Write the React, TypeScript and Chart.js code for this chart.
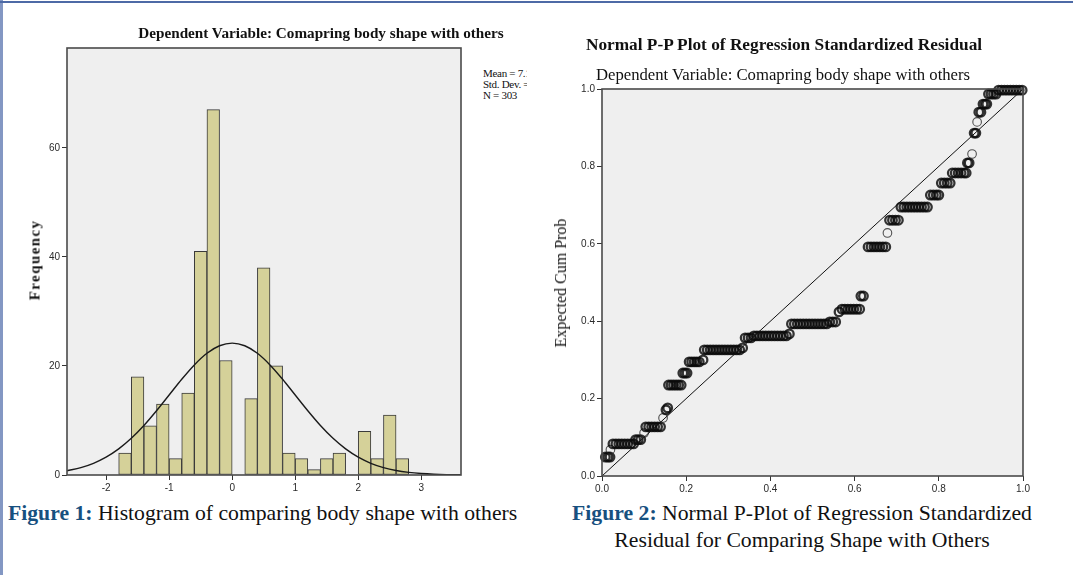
import React, { useEffect, useRef } from "react";
import { Chart, registerables } from "chart.js";
Chart.register(...registerables);

// ---------- Figure 1: histogram ----------
const binCenters = [-1.7, -1.5, -1.3, -1.1, -0.9, -0.7, -0.5, -0.3, -0.1, 0.1, 0.3, 0.5, 0.7, 0.9, 1.1, 1.3, 1.5, 1.7, 1.9, 2.1, 2.3, 2.5, 2.7];
const binCounts = [4, 18, 9, 13, 3, 15, 41, 67, 21, 0, 14, 38, 20, 4, 3, 1, 3, 4, 0, 8, 3, 11, 3];
const curveX = [-2.62, -2.4, -2.2, -2.0, -1.8, -1.6, -1.4, -1.2, -1.0, -0.8, -0.6, -0.4, -0.2, 0, 0.2, 0.4, 0.6, 0.8, 1.0, 1.2, 1.4, 1.6, 1.8, 2.0, 2.2, 2.4, 2.6, 2.8, 3.0, 3.2, 3.4, 3.63];
const curveY = [0.78, 1.36, 2.15, 3.27, 4.78, 6.72, 9.07, 11.77, 14.66, 17.56, 20.19, 22.32, 23.7, 24.18, 23.7, 22.32, 20.19, 17.56, 14.66, 11.77, 9.07, 6.72, 4.78, 3.27, 2.15, 1.36, 0.82, 0.48, 0.27, 0.14, 0.07, 0.04];
const histXTicks = [-2, -1, 0, 1, 2, 3];
const freqTicks = [0, 20, 40, 60];

// ---------- Figure 2: P-P plot ----------
const ppObserved = [
  0.008, 0.014, 0.019,
  0.020,
  0.026, 0.033, 0.040, 0.047, 0.054, 0.061, 0.068, 0.075,
  0.080, 0.086, 0.092,
  0.100,
  0.104, 0.111, 0.118, 0.125, 0.132, 0.139,
  0.145,
  0.152, 0.156,
  0.158, 0.164, 0.170, 0.176, 0.182, 0.188,
  0.192, 0.197, 0.202,
  0.207, 0.213, 0.219, 0.225, 0.231, 0.240,
  0.243, 0.250, 0.257, 0.264, 0.271, 0.278, 0.285, 0.292, 0.299, 0.306, 0.313, 0.320, 0.327, 0.334,
  0.340, 0.347, 0.354,
  0.361, 0.368, 0.375, 0.382, 0.389, 0.396, 0.403, 0.410, 0.417, 0.424, 0.431, 0.438, 0.445,
  0.450, 0.457, 0.464, 0.471, 0.478, 0.485, 0.492, 0.499, 0.506, 0.513, 0.520, 0.527, 0.534,
  0.541, 0.548, 0.555,
  0.563, 0.570, 0.577, 0.584, 0.591, 0.598, 0.605, 0.612,
  0.615, 0.621,
  0.632, 0.639, 0.646, 0.653, 0.660, 0.667, 0.674,
  0.678,
  0.683, 0.690, 0.697, 0.704,
  0.710, 0.717, 0.724, 0.731, 0.738, 0.745, 0.752, 0.759, 0.766, 0.773,
  0.780, 0.787, 0.794, 0.800,
  0.806, 0.813, 0.820, 0.827,
  0.832, 0.839, 0.846, 0.853, 0.860, 0.865,
  0.868, 0.872,
  0.879,
  0.884, 0.888,
  0.891,
  0.895, 0.900,
  0.905, 0.910, 0.914,
  0.918, 0.924, 0.930, 0.936,
  0.942, 0.949, 0.956, 0.963, 0.970, 0.977, 0.984, 0.991, 0.998,
];
const ppExpected = [
  0.049, 0.049, 0.049,
  0.068,
  0.083, 0.083, 0.083, 0.083, 0.083, 0.083, 0.083, 0.083,
  0.094, 0.094, 0.094,
  0.111,
  0.127, 0.127, 0.127, 0.127, 0.127, 0.127,
  0.150,
  0.171, 0.176,
  0.235, 0.235, 0.235, 0.235, 0.235, 0.235,
  0.266, 0.266, 0.266,
  0.295, 0.295, 0.295, 0.295, 0.295, 0.300,
  0.326, 0.326, 0.326, 0.326, 0.326, 0.326, 0.326, 0.326, 0.326, 0.326, 0.326, 0.326, 0.326, 0.331,
  0.357, 0.357, 0.357,
  0.362, 0.362, 0.362, 0.362, 0.362, 0.362, 0.362, 0.362, 0.362, 0.362, 0.362, 0.362, 0.367,
  0.393, 0.393, 0.393, 0.393, 0.393, 0.393, 0.393, 0.393, 0.393, 0.393, 0.393, 0.393, 0.393,
  0.398, 0.398, 0.398,
  0.424, 0.431, 0.431, 0.431, 0.431, 0.431, 0.431, 0.431,
  0.465, 0.465,
  0.592, 0.592, 0.592, 0.592, 0.592, 0.592, 0.592,
  0.628,
  0.661, 0.661, 0.661, 0.661,
  0.695, 0.695, 0.695, 0.695, 0.695, 0.695, 0.695, 0.695, 0.695, 0.695,
  0.726, 0.726, 0.726, 0.726,
  0.757, 0.757, 0.757, 0.757,
  0.783, 0.783, 0.783, 0.783, 0.783, 0.783,
  0.809, 0.809,
  0.832,
  0.886, 0.886,
  0.915,
  0.940, 0.940,
  0.961, 0.961, 0.961,
  0.987, 0.987, 0.987, 0.987,
  0.997, 0.997, 0.997, 0.997, 0.997, 0.997, 0.997, 0.997, 0.997,
];
const diagX = [0, 1];
const diagY = [0, 1];
const ppTicks = [0, 0.2, 0.4, 0.6, 0.8, 1.0];

const plotFrame = {
  id: "plotFrame",
  beforeDraw(chart: any) {
    const { ctx, chartArea: a } = chart;
    ctx.save();
    ctx.fillStyle = "#efefef";
    ctx.fillRect(a.left, a.top, a.right - a.left, a.bottom - a.top);
    ctx.restore();
  },
  afterDraw(chart: any) {
    const { ctx, chartArea: a } = chart;
    ctx.save();
    ctx.strokeStyle = "#4a4a4a";
    ctx.lineWidth = 1.6;
    ctx.strokeRect(a.left, a.top, a.right - a.left, a.bottom - a.top);
    ctx.restore();
  },
};

const tickFont = { family: "'Liberation Sans', Arial, sans-serif", size: 10 };

function axis(min: number, max: number, ticks: number[], fixed: number, isY: boolean, fmt: (v: number) => string) {
  return {
    type: "linear",
    min,
    max,
    offset: false,
    afterBuildTicks: (s: any) => {
      s.ticks = ticks.map((v) => ({ value: v }));
    },
    afterFit: (s: any) => {
      if (isY) s.width = fixed;
      else s.height = fixed;
    },
    ticks: {
      font: tickFont,
      color: "#2a2a2a",
      padding: 2,
      maxRotation: 0,
      autoSkip: false,
      callback: (v: any) => fmt(Number(v)),
    },
    grid: {
      display: true,
      drawOnChartArea: false,
      drawTicks: true,
      tickLength: 5,
      color: "#333",
      lineWidth: 1,
      offset: false,
    },
    border: { display: false },
  };
}

function HistChart() {
  const ref = useRef<HTMLCanvasElement>(null);
  useEffect(() => {
    const bars = binCenters
      .map((x, i) => ({ x, y: binCounts[i] }))
      .filter((d) => d.y > 0);
    const curve = curveX.map((x, i) => ({ x, y: curveY[i] }));
    const chart = new Chart(ref.current!, {
      type: "bar",
      data: {
        datasets: [
          {
            type: "bar",
            data: bars as any,
            backgroundColor: "#d5d199",
            borderColor: "#3a3a3a",
            borderWidth: 1,
            borderSkipped: false,
            barPercentage: 1,
            categoryPercentage: 1,
            order: 1,
          } as any,
          {
            type: "line",
            data: curve as any,
            borderColor: "#1a1a1a",
            borderWidth: 1.4,
            pointRadius: 0,
            tension: 0.4,
            cubicInterpolationMode: "monotone",
            order: 0,
          } as any,
        ],
      },
      options: {
        responsive: false,
        animation: false,
        devicePixelRatio: 1,
        events: [],
        layout: { padding: { top: 6, right: 4, left: 0, bottom: 0 } },
        plugins: { legend: { display: false }, tooltip: { enabled: false } },
        scales: {
          x: axis(-2.62, 3.63, histXTicks, 20, false, (v) => String(v)) as any,
          y: axis(0, 78.3, freqTicks, 47, true, (v) => String(v)) as any,
        },
      },
      plugins: [plotFrame],
    });
    return () => chart.destroy();
  }, []);
  return <canvas ref={ref} width={445} height={455} style={{ position: "absolute", left: 20, top: 40 }} />;
}

function PPChart() {
  const ref = useRef<HTMLCanvasElement>(null);
  useEffect(() => {
    const pts = ppObserved.map((x, i) => ({ x, y: ppExpected[i] }));
    // a circle with no close neighbour is drawn as a light open ring, as in the reference
    const isolated = pts.map((p, i) =>
      !pts.some((q, j) => j !== i && Math.abs(q.x - p.x) < 0.009 && Math.abs(q.y - p.y) < 0.012)
    );
    const diag = diagX.map((x, i) => ({ x, y: diagY[i] }));
    const chart = new Chart(ref.current!, {
      type: "scatter",
      data: {
        datasets: [
          {
            data: pts,
            pointRadius: 4.3,
            pointBorderWidth: (c: any) => (isolated[c.dataIndex] ? 1.1 : 2.3),
            pointBorderColor: (c: any) => (isolated[c.dataIndex] ? "rgba(40,40,40,0.8)" : "rgba(10,10,10,0.82)"),
            pointBackgroundColor: "rgba(0,0,0,0)",
            clip: false,
            order: 1,
          } as any,
          {
            type: "line",
            data: diag,
            borderColor: "#111",
            borderWidth: 1,
            pointRadius: 0,
            showLine: true,
            order: 0,
          } as any,
        ],
      },
      options: {
        responsive: false,
        animation: false,
        devicePixelRatio: 1,
        events: [],
        layout: { padding: { top: 9, right: 12, left: 0, bottom: 0 } },
        plugins: { legend: { display: false }, tooltip: { enabled: false } },
        scales: {
          x: axis(0, 1, ppTicks, 20, false, (v) => v.toFixed(1)) as any,
          y: axis(0, 1, ppTicks, 57, true, (v) => v.toFixed(1)) as any,
        },
      },
      plugins: [plotFrame],
    });
    return () => chart.destroy();
  }, []);
  return <canvas ref={ref} width={490} height={416} style={{ position: "absolute", left: 545, top: 80 }} />;
}

const serif = "'Liberation Serif', 'Times New Roman', serif";
const abs = (o: any) => ({ position: "absolute" as const, whiteSpace: "nowrap" as const, ...o });

export default function App() {
  return (
    <div style={{ position: "absolute", left: 0, top: 0, width: 1073, height: 575, background: "#fff", overflow: "hidden", fontFamily: serif, color: "#111" }}>
      <div style={abs({ left: 0, top: 0, width: 3, height: 575, background: "#8397c3" })} />
      <div style={abs({ left: 0, top: 1, width: 1073, height: 2, background: "#4d6aa6" })} />

      <HistChart />
      <PPChart />

      <div style={abs({ left: 71, top: 25, width: 500, textAlign: "center", fontSize: 15.2, fontWeight: "bold", lineHeight: "16px" })}>
        Dependent Variable: Comapring body shape with others
      </div>
      <div style={abs({ left: 483, top: 68, width: 44, overflow: "hidden", fontSize: 11, lineHeight: "11px", letterSpacing: "-0.3px" })}>
        <div>Mean = 7.13E-16</div>
        <div>Std. Dev. = 0.998</div>
        <div>N = 303</div>
      </div>
      <div style={abs({ left: 35, top: 260, transform: "translate(-50%,-50%) rotate(-90deg)", fontSize: 15, fontWeight: "bold", letterSpacing: "1.4px" })}>
        Frequency
      </div>

      <div style={abs({ left: 534, top: 36, width: 500, textAlign: "center", fontSize: 17.3, fontWeight: "bold", lineHeight: "18px" })}>
        Normal P-P Plot of Regression Standardized Residual
      </div>
      <div style={abs({ left: 533, top: 66, width: 500, textAlign: "center", fontSize: 16.7, lineHeight: "18px" })}>
        Dependent Variable: Comapring body shape with others
      </div>
      <div style={abs({ left: 561, top: 283, transform: "translate(-50%,-50%) rotate(-90deg)", fontSize: 16 })}>
        Expected Cum Prob
      </div>

      <div style={abs({ left: 8, top: 500, fontSize: 21.7, lineHeight: "27px" })}>
        <span style={{ color: "#17507f", fontWeight: "bold" }}>Figure 1:</span> Histogram of comparing body shape with others
      </div>
      <div style={abs({ left: 552, top: 500, width: 500, textAlign: "center", fontSize: 21.7, lineHeight: "27px" })}>
        <span style={{ color: "#17507f", fontWeight: "bold" }}>Figure 2:</span> Normal P-Plot of Regression Standardized
        <br />
        Residual for Comparing Shape with Others
      </div>
    </div>
  );
}
